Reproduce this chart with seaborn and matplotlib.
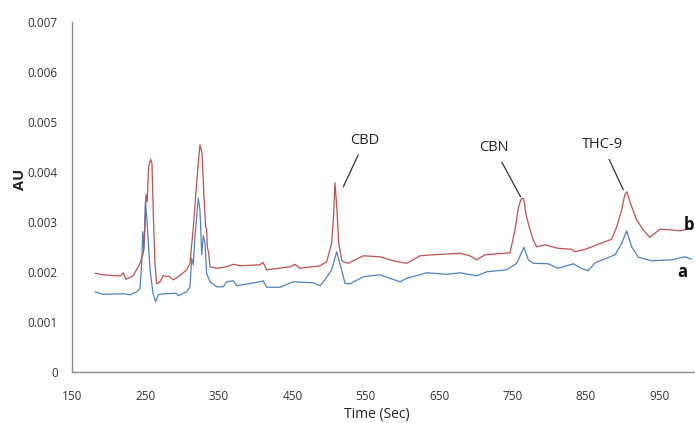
import matplotlib
matplotlib.use("Agg")
import matplotlib.pyplot as plt
import numpy as np
import pandas as pd
import seaborn as sns

# chromatogram b (red, upper trace)
t_b = [181, 192, 210, 216, 219.5, 223, 233, 242.3, 246.8, 249, 250.4, 252, 254, 256.8, 258.6,
       260.4, 262.7, 265, 269.5, 274, 283, 287.7, 294.5, 306, 310.4, 315, 318.6, 321.7, 324,
       326.8, 329.5, 331.8, 333.2, 334, 336, 337.7, 346.8, 360.4, 369.4, 378.6, 405.8, 410,
       415, 446.7, 453.5, 460, 487.6, 496.7, 503.5, 506, 508, 510.5, 513, 517, 519.4, 526,
       546.6, 569, 587.5, 605.8, 624, 642, 678.4, 692, 701, 712.5, 746.6, 753.4, 758, 762,
       765, 769, 773, 778, 783, 794, 812, 830.6, 835, 849, 885, 892, 898.8, 903, 906, 910,
       919, 928, 937, 950.9, 964.6, 978, 996]
au_b = [0.00198, 0.00195, 0.00193, 0.00193, 0.00199, 0.00186, 0.00193, 0.00218, 0.00238, 0.00285,
        0.00355, 0.00341, 0.00411, 0.00426, 0.00418, 0.00318, 0.00218, 0.00177, 0.00181, 0.00193,
        0.00191, 0.00185, 0.00191, 0.00205, 0.00218, 0.00291, 0.00361, 0.00418, 0.00455, 0.00438,
        0.00351, 0.00291, 0.00285, 0.00251, 0.00238, 0.00211, 0.00208, 0.00211, 0.00216, 0.00213,
        0.00215, 0.00220, 0.00205, 0.00211, 0.00216, 0.00208, 0.00213, 0.00221, 0.00258, 0.00310,
        0.00379, 0.00330, 0.00260, 0.00225, 0.00221, 0.00218, 0.00233, 0.00231, 0.00223, 0.00218,
        0.00233, 0.00235, 0.00238, 0.00233, 0.00225, 0.00235, 0.00239, 0.00285, 0.00330, 0.00347,
        0.00348, 0.00311, 0.00290, 0.00265, 0.00251, 0.00255, 0.00248, 0.00246, 0.00241, 0.00246,
        0.00266, 0.00291, 0.00325, 0.00355, 0.00361, 0.00341, 0.00305, 0.00285, 0.00270, 0.00286,
        0.00285, 0.00283, 0.00288]

# chromatogram a (blue, lower trace)
t_a = [181, 192, 219.5, 228.6, 237.8, 242.3, 244.6, 246, 247.7, 249.5, 251.5, 256, 260, 263.6,
       267, 274, 292, 294.5, 306, 310.4, 312.7, 315, 317.2, 321.7, 324, 326.4, 328.5, 331, 333,
       337.7, 346.8, 355.8, 360.4, 369.4, 374, 405.8, 410, 415, 433, 451, 478.5, 487.6, 494.4,
       503.5, 510.4, 517, 521.7, 528.5, 546.6, 569, 596.6, 605.8, 633, 660, 678.4, 701, 714.8,
       742, 755.7, 765.6, 771.5, 778.3, 798.8, 812, 832.8, 844, 853, 862.4, 889.7, 898.8, 905.6,
       912.4, 921.5, 939.7, 967, 985, 994]
au_a = [0.00161, 0.00156, 0.00157, 0.00155, 0.00161, 0.00168, 0.00218, 0.00281, 0.00245, 0.00339,
        0.00311, 0.00205, 0.00158, 0.00141, 0.00155, 0.00157, 0.00158, 0.00153, 0.00161, 0.00171,
        0.00228, 0.00215, 0.00271, 0.00348, 0.00325, 0.00235, 0.00273, 0.00258, 0.00198, 0.00181,
        0.00171, 0.00171, 0.00181, 0.00183, 0.00173, 0.00181, 0.00183, 0.00170, 0.00170, 0.00181,
        0.00179, 0.00173, 0.00185, 0.00205, 0.00241, 0.00205, 0.00178, 0.00177, 0.00191, 0.00195,
        0.00181, 0.00188, 0.00199, 0.00196, 0.00199, 0.00193, 0.00201, 0.00205, 0.00218, 0.00250,
        0.00225, 0.00218, 0.00217, 0.00208, 0.00217, 0.00208, 0.00203, 0.00219, 0.00235, 0.00258,
        0.00283, 0.00251, 0.00230, 0.00223, 0.00225, 0.00231, 0.00226]

# peak labels: (name, label position, peak position)
peaks = ["CBD", "CBN", "THC-9"]
peak_text = [(549, 0.00464), (724.8, 0.00449), (872.4, 0.00455)]
peak_xy = [(519.4, 0.00371), (761, 0.00351), (901, 0.00365)]

x_ticks = [150, 250, 350, 450, 550, 650, 750, 850, 950]
y_ticks = [0, 0.001, 0.002, 0.003, 0.004, 0.005, 0.006, 0.007]
y_labels = ["0", "0.001", "0.002", "0.003", "0.004", "0.005", "0.006", "0.007"]

sns.set_style("white")
plt.rcParams['font.family'] = ['Open Sans', 'DejaVu Sans']

fig = plt.figure(figsize=(6.95, 4.23), dpi=100)
ax = fig.add_axes([0.104, 0.1199, 0.896, 0.8274])

sns.lineplot(x=t_a, y=au_a, color='#4F81BD', linewidth=0.9, ax=ax, estimator=None)
sns.lineplot(x=t_b, y=au_b, color='#C0504D', linewidth=0.9, ax=ax, estimator=None)

ax.set_xlim(150, 998.7)
ax.set_ylim(0, 0.007)
ax.set_xticks(x_ticks)
ax.set_xticklabels([str(v) for v in x_ticks])
ax.set_yticks(y_ticks)
ax.set_yticklabels(y_labels)

for s in ['top', 'right']:
    ax.spines[s].set_visible(False)
for s in ['left', 'bottom']:
    ax.spines[s].set_color('#8c8c8c')
    ax.spines[s].set_linewidth(1.0)
ax.tick_params(axis='both', direction='out', length=3.5, width=1.0, color='#8c8c8c',
               labelsize=8.5, labelcolor='#333333')
ax.tick_params(axis='y', pad=7)
ax.tick_params(axis='x', pad=9)

for name, txt, xy in zip(peaks, peak_text, peak_xy):
    ax.annotate(name, xy=xy, xytext=txt, ha='center', va='center', fontsize=10.5,
                color='#222222',
                arrowprops=dict(arrowstyle='-', color='#333333', lw=0.9, shrinkA=3, shrinkB=0))

ax.text(981.4, 0.00201, "a", fontsize=12, fontweight='bold', ha='center', va='center',
        color='#111111', clip_on=False)
ax.text(997, 0.00295, "b", fontsize=12, fontweight='bold', ha='right', va='center',
        color='#111111', clip_on=False)

fig.text(20 / 695, 1 - 179 / 423, "AU", rotation=90, ha='center', va='center',
         fontsize=10.5, fontweight='bold', color='#222222')
fig.text(377 / 695, 1 - 414 / 423, "Time (Sec)", ha='center', va='center',
         fontsize=10, color='#222222')

fig.savefig("out.png", dpi=100)
